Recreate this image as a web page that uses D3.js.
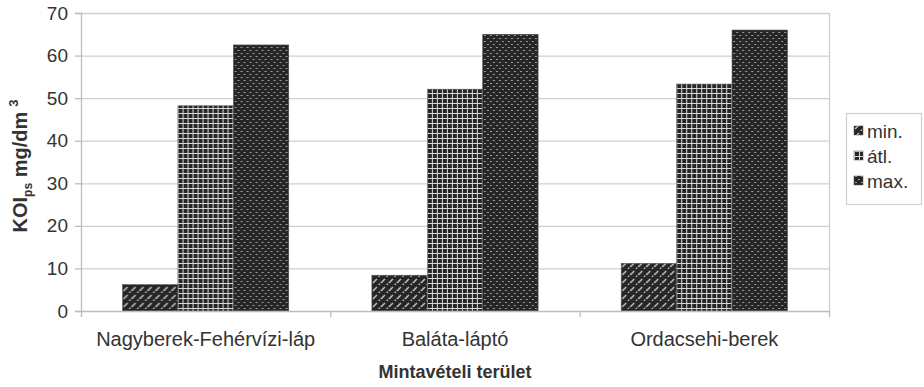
<!DOCTYPE html>
<html>
<head>
<meta charset="utf-8">
<script src="https://cdn.jsdelivr.net/npm/d3@7"></script>
<style>
  html, body { margin: 0; padding: 0; background: #fff; }
  svg { display: block; font-family: "Liberation Sans", Arial, sans-serif; }
</style>
</head>
<body>
<svg id="chart" width="924" height="387"></svg>
<script>
// Sampling sites and the min / mean / max chemical oxygen demand (KOIps, mg/dm3)
const categories = ["Nagyberek-Fehérvízi-láp", "Baláta-láptó", "Ordacsehi-berek"];
const seriesNames = ["min.", "átl.", "max."];
const minValues = [6.2, 8.4, 11.2];
const avgValues = [48.2, 52.1, 53.3];
const maxValues = [62.5, 65.0, 66.0];
const yTicks = [0, 10, 20, 30, 40, 50, 60, 70];

const seriesValues = [minValues, avgValues, maxValues];

const svg = d3.select("#chart");
const margin = { left: 81, right: 95, top: 13, bottom: 76 };
const W = 924, H = 387;
const plotW = W - margin.left - margin.right;
const plotH = H - margin.top - margin.bottom;

// Fill patterns for the three series
const defs = svg.append("defs");
const dark = "#262626";

// min: diagonal dashes
const p0 = defs.append("pattern").attr("id", "pat0").attr("patternUnits", "userSpaceOnUse")
  .attr("width", 8).attr("height", 8);
p0.append("rect").attr("width", 8).attr("height", 8).attr("fill", dark);
p0.append("path").attr("d", "M1,6 L5,2 M5,10 L9,6 M-3,2 L1,-2")
  .attr("stroke", "#c4c4c4").attr("stroke-width", 1.5).attr("fill", "none");

// átl: dark cells separated by a light grid
const p1 = defs.append("pattern").attr("id", "pat1").attr("patternUnits", "userSpaceOnUse")
  .attr("width", 5).attr("height", 5);
p1.append("rect").attr("width", 5).attr("height", 5).attr("fill", "#d8d8d8");
p1.append("rect").attr("x", 1).attr("y", 1).attr("width", 4).attr("height", 4).attr("fill", dark);

// max: staggered short horizontal dashes
const p2 = defs.append("pattern").attr("id", "pat2").attr("patternUnits", "userSpaceOnUse")
  .attr("width", 6).attr("height", 6);
p2.append("rect").attr("width", 6).attr("height", 6).attr("fill", dark);
p2.append("rect").attr("x", 1).attr("y", 1).attr("width", 2).attr("height", 1).attr("fill", "#9a9a9a");
p2.append("rect").attr("x", 4).attr("y", 4).attr("width", 2).attr("height", 1).attr("fill", "#9a9a9a");

const x0 = d3.scaleBand().domain(categories).range([0, plotW]).paddingInner(0).paddingOuter(0);
// bars fill 3 of 4.5 bar-widths in each category (150% gap)
const groupW = x0.bandwidth() * 3 / 4.5;
const x1 = d3.scaleBand().domain(seriesNames).range([0, groupW]).padding(0);
const y = d3.scaleLinear().domain([0, 70]).range([plotH, 0]);

const g = svg.append("g").attr("transform", `translate(${margin.left},${margin.top})`);

// gridlines
g.append("g").selectAll("line").data(yTicks.filter(t => t > 0)).join("line")
  .attr("x1", 0).attr("x2", plotW)
  .attr("y1", d => y(d) + 0.5).attr("y2", d => y(d) + 0.5)
  .attr("stroke", "#cfcfcf").attr("stroke-width", 1.3);

// right border
g.append("line").attr("x1", plotW + 0.5).attr("x2", plotW + 0.5).attr("y1", 0).attr("y2", plotH)
  .attr("stroke", "#cfcfcf").attr("stroke-width", 1.3);

// bars
const groups = g.append("g").selectAll("g").data(categories).join("g")
  .attr("transform", d => `translate(${x0(d) + (x0.bandwidth() - groupW) / 2},0)`);
groups.selectAll("rect")
  .data((c, ci) => seriesNames.map((s, si) => ({ s, si, v: seriesValues[si][ci] })))
  .join("rect")
  .attr("x", d => x1(d.s))
  .attr("width", x1.bandwidth())
  .attr("y", d => y(d.v))
  .attr("height", d => plotH - y(d.v))
  .attr("fill", d => `url(#pat${d.si})`)
  .attr("stroke", "#555").attr("stroke-width", 0.6);

// y axis
const yAxis = g.append("g").call(d3.axisLeft(y).tickValues(yTicks).tickSize(6).tickPadding(7));
yAxis.select(".domain").attr("stroke", "#bdbdbd").attr("stroke-width", 1.3);
yAxis.selectAll(".tick line").attr("stroke", "#bdbdbd").attr("stroke-width", 1.3);
yAxis.selectAll(".tick text").attr("font-size", 19).attr("fill", "#333")
  .attr("font-family", "Liberation Sans, Arial, sans-serif");

// x axis: tick marks at category boundaries
const xAxisG = g.append("g").attr("transform", `translate(0,${plotH})`);
xAxisG.append("line").attr("x1", 0).attr("x2", plotW).attr("y1", 0.5).attr("y2", 0.5)
  .attr("stroke", "#bdbdbd").attr("stroke-width", 1.3);
const bounds = categories.map(c => x0(c)).concat([plotW]);
xAxisG.selectAll("line.tk").data(bounds).join("line").attr("class", "tk")
  .attr("x1", d => d + 0.5).attr("x2", d => d + 0.5).attr("y1", 0).attr("y2", 6)
  .attr("stroke", "#bdbdbd").attr("stroke-width", 1.3);
xAxisG.selectAll("text").data(categories).join("text")
  .attr("x", d => x0(d) + x0.bandwidth() / 2)
  .attr("y", 35)
  .attr("text-anchor", "middle")
  .attr("font-size", 20).attr("fill", "#333")
  .text(d => d);

// axis titles
svg.append("text")
  .attr("x", margin.left + plotW / 2).attr("y", 378)
  .attr("text-anchor", "middle").attr("font-size", 18).attr("font-weight", "bold").attr("fill", "#333")
  .text("Mintavételi terület");

const yt = svg.append("text")
  .attr("transform", `translate(27,${margin.top + plotH / 2 + 4}) rotate(-90)`)
  .attr("text-anchor", "middle").attr("font-size", 20).attr("font-weight", "bold").attr("fill", "#333");
yt.append("tspan").text("KOI");
yt.append("tspan").attr("font-size", 12).attr("dy", 5).text("ps");
yt.append("tspan").attr("dy", -5).text("  mg/dm");
yt.append("tspan").attr("font-size", 13).attr("dy", -9).attr("dx", 5).text("3");

// legend
const lg = svg.append("g").attr("transform", "translate(846,113)");
lg.append("rect").attr("x", 0.5).attr("y", 0.5).attr("width", 75).attr("height", 91)
  .attr("fill", "#fff").attr("stroke", "#cfcfcf").attr("stroke-width", 1.2);
const items = lg.selectAll("g").data(seriesNames).join("g")
  .attr("transform", (d, i) => `translate(8,${18 + i * 25})`);
items.append("rect").attr("x", 0).attr("y", -5).attr("width", 9).attr("height", 9)
  .attr("fill", (d, i) => `url(#pat${i})`).attr("stroke", "#555").attr("stroke-width", 0.5);
items.append("text").attr("x", 13).attr("y", 0).attr("dy", "0.35em")
  .attr("font-size", 19).attr("fill", "#333").text(d => d);
</script>
</body>
</html>
